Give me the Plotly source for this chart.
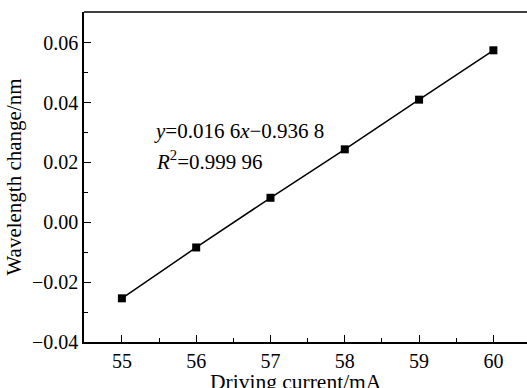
import plotly.graph_objects as go

current_mA = [55, 56, 57, 58, 59, 60]
wavelength_change_nm = [-0.0254, -0.0084, 0.0082, 0.0244, 0.0410, 0.0575]
fit_text = ["<i>y</i>=0.016 6<i>x</i>−0.936 8", "<i>R</i><sup>2</sup>=0.999 96"]
x_title = "Driving current/mA"
y_title = "Wavelength change/nm"

FONT = "Liberation Serif, Times New Roman, serif"

fig = go.Figure()
fig.add_trace(go.Scatter(
    x=current_mA, y=wavelength_change_nm, mode="lines+markers",
    line=dict(color="black", width=1.5),
    marker=dict(symbol="square", size=8, color="black"),
    showlegend=False,
))

# plot area on screen: x 84..(past right edge), y 12..342
W, H = 531, 388
L, T, B, R = 84, 12, 46, 0
PW, PH = W - L - R, H - T - B
fig.add_annotation(x=(152 - L) / PW, y=(342 - 131) / PH, xref="paper", yref="paper",
                   xanchor="left", yanchor="middle",
                   text=fit_text[0], showarrow=False, font=dict(family=FONT, size=21, color="black"))
fig.add_annotation(x=(154 - L) / PW, y=(342 - 160) / PH, xref="paper", yref="paper",
                   xanchor="left", yanchor="middle",
                   text=fit_text[1], showarrow=False, font=dict(family=FONT, size=21, color="black"))
# x-axis title (partly cut by the bottom edge, as in the reference)
fig.add_annotation(x=(296 - L) / PW, y=-(382 - 342) / PH, xref="paper", yref="paper",
                   xanchor="center", yanchor="middle",
                   text=x_title, showarrow=False, font=dict(family=FONT, size=21.5, color="black"))

fig.update_layout(
    width=W, height=H,
    margin=dict(l=L, r=R, t=T, b=B),
    paper_bgcolor="white", plot_bgcolor="white",
    font=dict(family=FONT, size=20, color="black"),
    xaxis=dict(
        range=[54.49, 54.49 + PW / 74.3], tickvals=[55, 56, 57, 58, 59, 60],
        ticks="inside", ticklen=7, tickwidth=1.2, tickcolor="black",
        minor=dict(dtick=0.5, tick0=55, ticks="inside", ticklen=4, tickcolor="black", tickwidth=1.2),
        showline=True, linecolor="black", linewidth=1.5, mirror=False,
        showgrid=False, zeroline=False, automargin=False,
        tickfont=dict(size=20),
    ),
    yaxis=dict(
        range=[-0.04, 0.0703], tickvals=[-0.04, -0.02, 0.0, 0.02, 0.04, 0.06],
        tickformat=".2f",
        ticks="inside", ticklen=7, tickwidth=1.2, tickcolor="black",
        minor=dict(dtick=0.01, tick0=-0.04, ticks="inside", ticklen=4, tickcolor="black", tickwidth=1.2),
        showline=True, linecolor="black", linewidth=1.5,
        showgrid=False, zeroline=False, automargin=False,
        title=dict(text=y_title, standoff=5, font=dict(size=21)),
        tickfont=dict(size=20),
    ),
)
# top frame line
fig.add_shape(type="line", xref="paper", yref="paper", x0=0, x1=1, y0=1, y1=1,
              line=dict(color="black", width=1.5))

fig.write_html(
    "out.html",
    config={"displayModeBar": False},
    post_script="document.body.style.margin='0';document.documentElement.style.overflow='hidden';",
)
